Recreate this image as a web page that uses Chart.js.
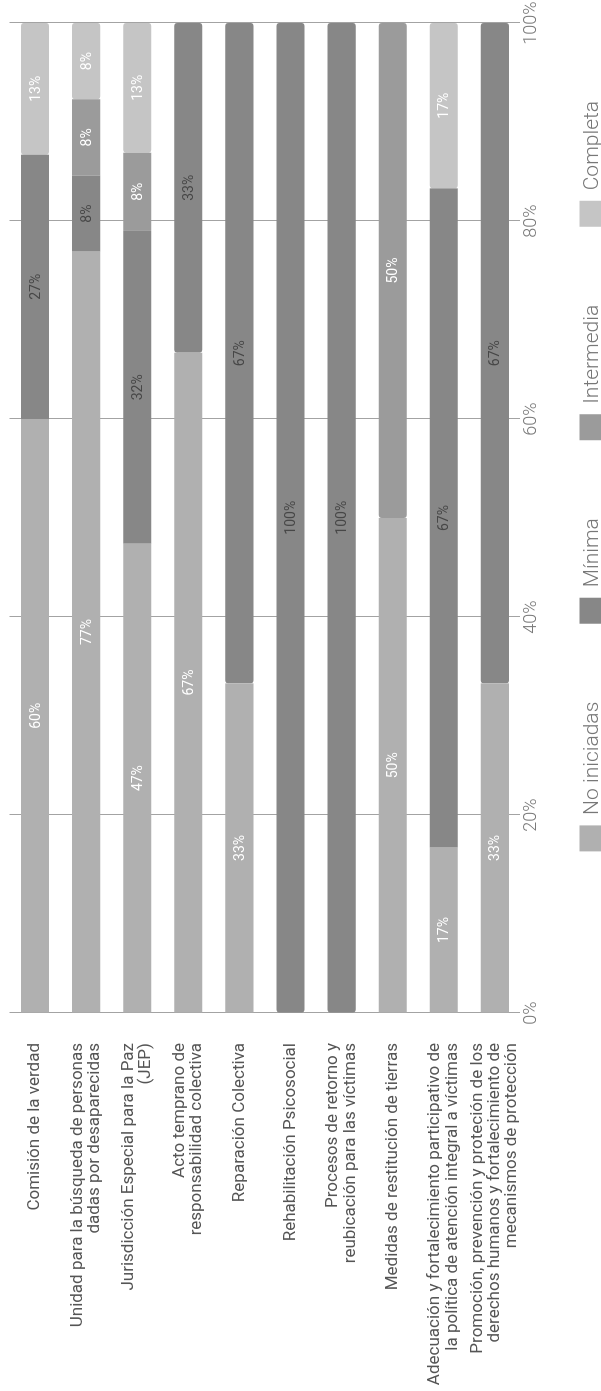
<!DOCTYPE html>
<html>
<head>
<meta charset="utf-8">
<script src="https://cdn.jsdelivr.net/npm/chart.js@4.4.1/dist/chart.umd.min.js"></script>
<style>
  html, body { margin: 0; padding: 0; background: #ffffff; }
  body { width: 601px; height: 1391px; overflow: hidden; position: relative; }
  #wrap { position: absolute; left: 0; top: 0; width: 1391px; height: 601px;
          transform-origin: 0 0; transform: translate(0, 1391px) rotate(-90deg); }
  canvas { display: block; }
</style>
</head>
<body>
<div id="wrap"><canvas id="c" width="1391" height="601"></canvas></div>
<script>
// ---- data ----
const categories = [
  'Comisión de la verdad',
  ['Unidad para la búsqueda de personas', 'dadas por desaparecidas'],
  ['Jurisdicción Especial para la Paz', '(JEP)'],
  ['Acto temprano de', 'responsabilidad colectiva'],
  'Reparación Colectiva',
  'Rehabilitación Psicosocial',
  ['Procesos de retorno y', 'reubicación para las víctimas'],
  'Medidas de restitución de tierras',
  ['Adecuación y fortalecimiento participativo de', 'la política de atención integral a víctimas'],
  ['Promoción, prevención y proteción de los', 'derechos humanos y fortalecimiento de', 'mecanismos de protección']
];
const seriesNames = ['No iniciadas', 'Mínima', 'Intermedia', 'Completa'];
const noIniciadas = [60, 76.9, 47.4, 66.7, 33.3, 0, 0, 50, 16.7, 33.3];
const minima      = [26.7, 7.7, 31.6, 33.3, 66.7, 100, 100, 0, 66.6, 66.7];
const intermedia  = [0, 7.7, 7.9, 0, 0, 0, 0, 50, 0, 0];
const completa    = [13.3, 7.7, 13.1, 0, 0, 0, 0, 0, 16.7, 0];
const xTicks = [0, 20, 40, 60, 80, 100];

const seriesColors = ['#b0b0b0', '#878787', '#9b9b9b', '#c5c5c5'];
const labelColors  = ['#ffffff', '#474747', '#ffffff', '#ffffff'];

const segLabels = {
  id: 'segLabels',
  afterDatasetsDraw(chart) {
    const ctx = chart.ctx;
    ctx.save();
    ctx.font = '400 14px Roboto';
    ctx.textAlign = 'center';
    ctx.textBaseline = 'middle';
    chart.data.datasets.forEach((ds, di) => {
      const meta = chart.getDatasetMeta(di);
      meta.data.forEach((bar, i) => {
        const v = ds.data[i];
        if (!v) return;
        const p = bar.getProps(['x', 'y', 'base'], true);
        ctx.fillStyle = labelColors[di];
        ctx.fillText(Math.round(v) + '%', (p.x + p.base) / 2, p.y + 1);
      });
    });
    ctx.restore();
  }
};

// the legend sits lower than its padding would put it; move its box after layout
const legendPlace = {
  id: 'legendPlace',
  afterLayout(chart) {
    const lg = chart.legend;
    if (!lg) return;
    lg.top = chart.chartArea.bottom + 59 - lg.options.labels.padding;
    lg.height = chart.height - lg.top + 20;
    lg.bottom = lg.top + lg.height;
  }
};

const dataArrays = [noIniciadas, minima, intermedia, completa];

new Chart(document.getElementById('c'), {
  type: 'bar',
  data: {
    labels: categories,
    datasets: seriesNames.map((name, k) => ({
      label: name,
      data: dataArrays[k],
      backgroundColor: seriesColors[k],
      borderWidth: 0,
      borderRadius: 3,
      borderSkipped: false,
      categoryPercentage: 1,
      barPercentage: 0.55
    }))
  },
  options: {
    indexAxis: 'y',
    responsive: false,
    animation: false,
    layout: { padding: { left: 6, right: 23, top: 9.5, bottom: 0 } },
    plugins: {
      legend: {
        position: 'bottom',
        align: 'end',
        maxHeight: 59,
        labels: {
          boxWidth: 26, boxHeight: 26, padding: 78, color: '#777777',
          font: { family: 'Roboto', size: 21, weight: 300 }
        }
      },
      tooltip: { enabled: false }
    },
    scales: {
      x: {
        stacked: true, min: 0, max: 100,
        afterBuildTicks: s => { s.ticks = xTicks.map(v => ({ value: v })); },
        grid: { color: '#a3a3a3', lineWidth: 1, drawTicks: false },
        border: { display: false },
        ticks: {
          padding: 0, color: '#7a7a7a',
          font: { family: 'Roboto', size: 18, weight: 300 },
          callback: v => v + '%'
        }
      },
      y: {
        stacked: true,
        grid: { display: false, drawTicks: false },
        border: { display: false },
        afterFit: s => { s.width = 372; s.paddingTop = 0; s.paddingBottom = 0; },
        ticks: {
          autoSkip: false, padding: 30, color: '#555555',
          font: { family: 'Roboto', size: 17, lineHeight: 1.02 }
        }
      }
    }
  },
  plugins: [segLabels, legendPlace]
});
</script>
</body>
</html>
